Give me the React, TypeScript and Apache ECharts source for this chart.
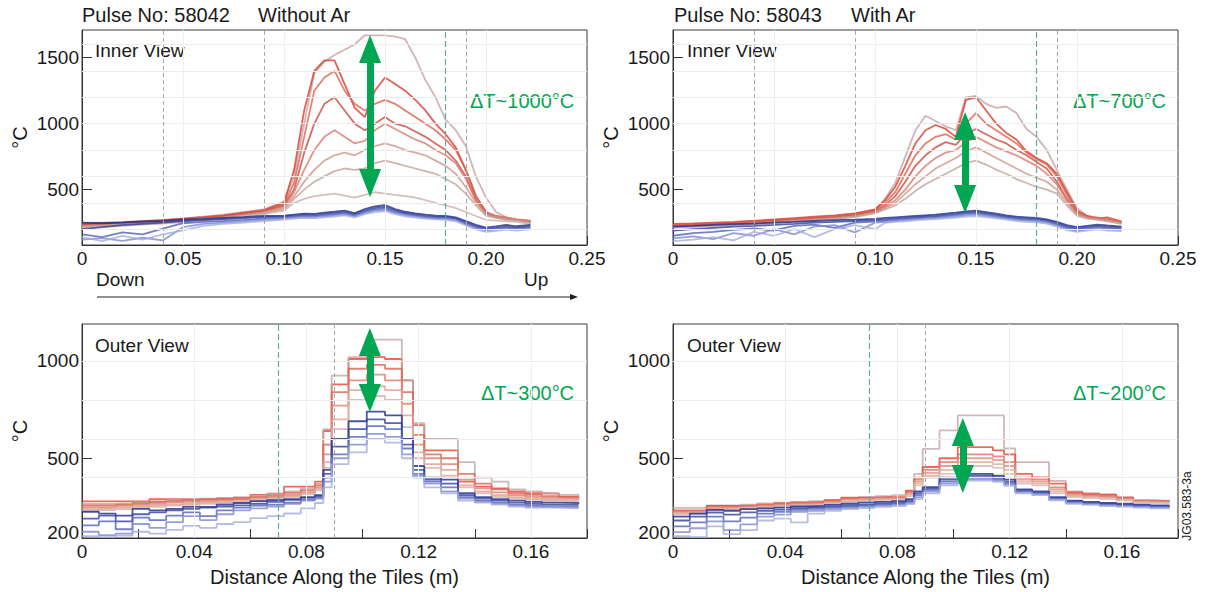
import React, { useEffect, useRef } from 'react';
import * as echarts from 'echarts';

const FONT = '"Liberation Sans", Arial, Helvetica, sans-serif';
const TXT = '#1a1a1a';
const GREEN = '#00a651';

// ---------- x positions (m) ----------
const innerX = [0, 0.01, 0.02, 0.03, 0.04, 0.05, 0.06, 0.07, 0.08, 0.09, 0.1, 0.105, 0.11, 0.115, 0.12, 0.125, 0.13, 0.135, 0.14, 0.145, 0.15, 0.155, 0.16, 0.165, 0.17, 0.175, 0.18, 0.185, 0.19, 0.195, 0.2, 0.205, 0.21, 0.215, 0.222];
const outerX = [0, 0.006, 0.012, 0.018, 0.024, 0.03, 0.036, 0.042, 0.048, 0.054, 0.06, 0.066, 0.072, 0.078, 0.083, 0.086, 0.089, 0.095, 0.1015, 0.108, 0.114, 0.118, 0.122, 0.128, 0.134, 0.14, 0.146, 0.152, 0.158, 0.164, 0.17, 0.177];

// ---------- Pulse 58042, Inner View (°C) ----------
const inner58042Red = [
  [245, 250, 255, 262, 270, 282, 295, 310, 330, 350, 410, 600, 1000, 1380, 1470, 1520, 1560, 1600, 1670, 1670, 1670, 1660, 1640, 1500, 1330, 1200, 1030, 950, 830, 600, 440, 330, 290, 270, 260],
  [240, 245, 252, 258, 268, 280, 292, 305, 325, 345, 400, 650, 1100, 1400, 1480, 1480, 1300, 1120, 1050, 1250, 1350, 1300, 1250, 1180, 1100, 1000, 920, 820, 650, 450, 330, 290, 280, 270, 250],
  [235, 240, 248, 255, 262, 275, 288, 300, 320, 340, 390, 550, 900, 1250, 1350, 1400, 1250, 1150, 1100, 1150, 1180, 1150, 1100, 1050, 1000, 950, 880, 800, 650, 450, 330, 300, 285, 275, 265],
  [230, 236, 244, 250, 258, 270, 283, 296, 315, 335, 380, 500, 780, 1000, 1150, 1200, 1100, 1000, 950, 1000, 1050, 1000, 980, 940, 900, 850, 800, 720, 600, 420, 320, 290, 280, 270, 255],
  [225, 232, 240, 246, 255, 266, 280, 292, 310, 330, 370, 480, 650, 800, 900, 950, 900, 850, 870, 950, 1000, 960, 920, 880, 850, 800, 760, 700, 580, 420, 320, 300, 290, 275, 260],
  [220, 228, 236, 242, 250, 262, 276, 288, 305, 325, 360, 450, 560, 650, 720, 760, 780, 760, 800, 830, 850, 830, 800, 780, 760, 720, 680, 620, 520, 400, 310, 290, 280, 270, 250],
  [215, 222, 230, 238, 246, 258, 272, 285, 300, 320, 350, 430, 500, 560, 600, 640, 660, 650, 660, 700, 720, 700, 680, 660, 640, 620, 580, 540, 470, 380, 300, 285, 270, 265, 245],
  [210, 218, 226, 234, 242, 254, 268, 280, 296, 315, 340, 400, 430, 450, 460, 470, 455, 440, 460, 480, 470, 460, 450, 440, 420, 400, 380, 360, 330, 300, 270, 265, 260, 255, 240],
];
const inner58042Blue = [
  [250, 245, 250, 258, 262, 272, 278, 285, 292, 300, 302, 310, 318, 316, 326, 332, 340, 322, 352, 372, 382, 352, 332, 320, 310, 302, 300, 290, 262, 232, 212, 222, 232, 222, 232],
  [200, 215, 230, 240, 250, 262, 268, 276, 284, 292, 296, 302, 310, 306, 316, 322, 330, 312, 340, 360, 368, 340, 322, 310, 300, 294, 292, 282, 252, 222, 202, 210, 220, 212, 222],
  [160, 140, 175, 160, 205, 245, 255, 262, 270, 280, 288, 294, 300, 298, 306, 312, 320, 302, 330, 348, 356, 330, 314, 302, 292, 286, 284, 274, 244, 212, 195, 202, 210, 205, 212],
  [120, 132, 112, 135, 115, 215, 240, 250, 260, 270, 280, 286, 292, 290, 298, 304, 312, 296, 322, 340, 346, 322, 306, 294, 286, 280, 276, 266, 236, 205, 188, 196, 204, 198, 205],
  [140, 110, 150, 120, 160, 190, 225, 240, 250, 262, 272, 280, 286, 284, 290, 296, 304, 290, 314, 330, 336, 314, 298, 288, 280, 274, 270, 260, 228, 198, 180, 188, 196, 190, 198],
];

// ---------- Pulse 58043, Inner View (°C) ----------
const inner58043Red = [
  [232, 238, 244, 250, 258, 268, 278, 288, 298, 315, 345, 430, 550, 750, 950, 1060, 1020, 980, 950, 1200, 1210, 1150, 1120, 1130, 1080, 960, 900, 800, 650, 500, 360, 300, 290, 270, 250],
  [240, 244, 250, 256, 264, 274, 284, 294, 304, 320, 350, 420, 520, 680, 850, 950, 990, 960, 900, 1180, 1200, 1100, 1000, 930, 880, 790, 740, 700, 620, 480, 340, 300, 280, 290, 260],
  [228, 234, 240, 246, 254, 264, 274, 284, 294, 310, 340, 400, 480, 620, 760, 850, 900, 920, 880, 1000, 1080, 1000, 950, 900, 850, 780, 730, 690, 600, 460, 330, 295, 285, 275, 255],
  [224, 230, 236, 242, 250, 260, 270, 280, 290, 305, 335, 380, 450, 560, 680, 760, 820, 860, 840, 920, 960, 920, 880, 850, 800, 760, 710, 660, 560, 430, 320, 290, 280, 270, 250],
  [220, 226, 232, 238, 246, 256, 266, 276, 286, 300, 330, 370, 420, 500, 600, 680, 740, 780, 800, 860, 900, 860, 820, 790, 760, 720, 680, 620, 540, 420, 320, 290, 280, 270, 248],
  [216, 222, 228, 234, 242, 252, 262, 272, 282, 296, 325, 360, 400, 470, 540, 600, 660, 700, 740, 790, 820, 780, 740, 700, 660, 620, 590, 560, 500, 400, 310, 285, 275, 265, 245],
  [212, 218, 224, 230, 238, 248, 258, 268, 278, 292, 320, 350, 380, 430, 490, 540, 580, 620, 660, 700, 720, 690, 650, 620, 580, 550, 520, 500, 470, 380, 300, 280, 270, 260, 240],
];
const inner58043Blue = [
  [220, 225, 232, 238, 242, 250, 255, 262, 268, 272, 278, 285, 290, 295, 300, 305, 310, 318, 325, 335, 340, 330, 318, 305, 295, 290, 285, 275, 255, 230, 215, 225, 235, 228, 220],
  [190, 200, 210, 220, 225, 232, 240, 250, 256, 262, 268, 274, 280, 285, 290, 296, 300, 308, 316, 326, 330, 320, 308, 296, 286, 280, 276, 266, 246, 220, 205, 215, 225, 218, 210],
  [150, 170, 180, 195, 205, 190, 225, 235, 210, 250, 258, 264, 270, 276, 282, 288, 292, 300, 306, 316, 320, 310, 298, 288, 278, 272, 268, 258, 236, 210, 195, 205, 215, 208, 200],
  [130, 145, 125, 170, 150, 200, 160, 220, 230, 175, 250, 256, 262, 268, 274, 280, 284, 290, 296, 306, 310, 300, 290, 280, 270, 264, 260, 250, 228, 200, 188, 198, 208, 200, 192],
  [110, 120, 140, 115, 180, 150, 200, 140, 200, 230, 200, 248, 255, 260, 266, 272, 276, 282, 288, 296, 300, 292, 282, 272, 262, 256, 252, 242, 220, 192, 180, 190, 198, 190, 185],
];

// ---------- Pulse 58042, Outer View (°C, stepped) ----------
const outer58042Red = [
  [278, 278, 278, 278, 290, 290, 290, 290, 290, 292, 312, 318, 354, 354, 380, 640, 880, 1010, 1020, 1010, 900, 670, 540, 540, 380, 354, 345, 329, 320, 318, 303, 300],
  [265, 265, 268, 272, 280, 284, 288, 292, 296, 300, 306, 316, 330, 345, 372, 650, 925, 1020, 1110, 1110, 900, 680, 600, 600, 480, 400, 380, 340, 330, 320, 312, 305],
  [258, 258, 262, 268, 275, 280, 284, 288, 292, 296, 300, 308, 322, 336, 362, 570, 840, 960, 980, 960, 840, 620, 520, 500, 420, 370, 340, 320, 312, 305, 300, 296],
  [248, 250, 255, 260, 266, 272, 276, 280, 284, 290, 296, 302, 312, 326, 352, 520, 770, 900, 930, 900, 780, 570, 500, 470, 390, 345, 325, 310, 302, 296, 294, 290],
  [238, 242, 246, 252, 258, 262, 266, 272, 276, 282, 288, 296, 306, 320, 342, 480, 700, 850, 870, 850, 720, 530, 470, 440, 360, 330, 310, 300, 292, 288, 286, 282],
  [228, 234, 238, 246, 250, 256, 260, 266, 270, 276, 282, 290, 300, 314, 335, 450, 650, 800, 820, 800, 660, 500, 450, 410, 350, 320, 302, 292, 286, 282, 280, 276],
];
const outer58042Blue = [
  [225, 215, 205, 240, 232, 240, 250, 250, 262, 270, 280, 285, 290, 300, 310, 440, 600, 690, 740, 720, 600, 460, 400, 390, 320, 300, 290, 282, 276, 272, 270, 266],
  [190, 205, 175, 212, 222, 232, 240, 246, 252, 258, 266, 276, 286, 296, 305, 420, 560, 650, 700, 680, 570, 440, 390, 370, 310, 292, 282, 272, 266, 262, 260, 258],
  [155, 175, 135, 195, 182, 205, 222, 202, 232, 246, 256, 262, 272, 286, 296, 400, 520, 610, 665, 650, 550, 420, 380, 350, 300, 282, 272, 262, 256, 252, 250, 250],
  [122, 105, 112, 162, 142, 172, 202, 182, 212, 232, 242, 252, 266, 282, 292, 380, 500, 570, 625, 610, 520, 410, 370, 330, 292, 276, 266, 256, 250, 248, 246, 246],
  [100, 95, 102, 122, 112, 132, 152, 142, 162, 172, 192, 202, 216, 242, 270, 350, 470, 530, 600, 580, 500, 400, 350, 320, 282, 272, 262, 252, 246, 246, 244, 242],
];

// ---------- Pulse 58043, Outer View (°C, stepped) ----------
const outer58043Red = [
  [245, 245, 258, 258, 262, 268, 272, 276, 280, 285, 295, 300, 305, 310, 330, 420, 548, 643, 720, 720, 720, 550, 480, 480, 384, 330, 320, 316, 300, 285, 282, 280],
  [232, 232, 255, 255, 258, 262, 268, 272, 275, 285, 298, 298, 300, 300, 333, 400, 455, 500, 557, 557, 540, 520, 420, 402, 370, 324, 316, 312, 298, 282, 280, 278],
  [228, 230, 250, 252, 255, 260, 264, 270, 272, 280, 292, 295, 298, 300, 325, 390, 440, 480, 520, 520, 510, 480, 400, 390, 350, 318, 310, 305, 295, 280, 278, 276],
  [222, 226, 244, 246, 250, 255, 260, 265, 268, 275, 286, 290, 294, 296, 318, 380, 425, 460, 500, 500, 490, 460, 390, 380, 340, 312, 305, 300, 290, 278, 275, 274],
  [216, 220, 238, 240, 244, 250, 255, 260, 262, 270, 280, 285, 290, 292, 312, 370, 410, 440, 480, 480, 470, 440, 380, 370, 330, 306, 300, 296, 286, 276, 272, 270],
  [210, 214, 230, 234, 238, 244, 250, 255, 258, 265, 275, 280, 285, 288, 305, 360, 400, 420, 460, 460, 450, 420, 370, 360, 320, 300, 295, 290, 282, 272, 270, 268],
];
const outer58043Blue = [
  [200, 215, 235, 230, 238, 242, 246, 252, 255, 260, 266, 272, 276, 280, 290, 330, 352, 400, 420, 420, 410, 390, 340, 330, 300, 282, 276, 270, 266, 262, 258, 256],
  [180, 200, 220, 210, 222, 230, 236, 244, 248, 252, 258, 262, 268, 272, 282, 320, 345, 390, 410, 410, 400, 380, 335, 325, 296, 278, 272, 266, 262, 258, 254, 252],
  [150, 170, 200, 175, 195, 215, 225, 235, 240, 246, 250, 256, 262, 266, 276, 310, 338, 380, 400, 400, 392, 372, 330, 320, 292, 274, 268, 262, 258, 254, 250, 248],
  [120, 140, 175, 130, 160, 200, 210, 225, 230, 238, 244, 250, 255, 260, 270, 300, 330, 370, 392, 392, 385, 365, 325, 315, 288, 270, 264, 258, 254, 250, 246, 244],
  [100, 95, 150, 110, 130, 180, 190, 170, 215, 230, 238, 244, 250, 254, 264, 290, 320, 360, 385, 385, 378, 358, 320, 310, 284, 266, 260, 254, 250, 246, 242, 240],
];

// ---------- axis ticks / annotations ----------
const innerYTicks = [500, 1000, 1500];
const outerYTicks = [500, 1000];
const outerYBottomLabel = '200';
const innerGuides = [0.041, 0.0896, 0.1916];
const innerGuideTeal = 0.178;
const outerGuides = [0.0877];
const outerGuideTeal = 0.068;
const deltaLabels = ['ΔT~1000°C', 'ΔT~700°C', 'ΔT~300°C', 'ΔT~200°C'];
// green double arrows [x, yTop, yBottom] per panel (data coords)
const deltaArrows = [
  [0.1426, 1566, 550],
  [0.1446, 982, 429],
  [0.1026, 1098, 810],
  [0.1033, 635, 393],
];

const redInner = ['#c6a2a2', '#d8392b', '#e0604e', '#c94a3e', '#d97a6a', '#cf958a', '#c2a29c', '#c9b2ae'];
const redOuter58042 = ['#e8452c', '#bfa6a6', '#e06050', '#d8806e', '#e09c8c', '#d8aea6'];
const redOuter58043 = ['#c4a6a6', '#e8452c', '#e07060', '#d8907e', '#e0a898', '#d8b6ae'];
const blues = ['#1d2a8a', '#2f3fa0', '#5060b8', '#7c88cc', '#a4acdc'];

const grids = [
  { left: 82, top: 30, width: 505, height: 215 },
  { left: 673, top: 30, width: 505, height: 215 },
  { left: 82, top: 324, width: 505, height: 214 },
  { left: 673, top: 324, width: 505, height: 214 },
];

function buildOption() {
  const axisLine = { show: true, lineStyle: { color: '#333', width: 1 } };
  const labelBase = { color: TXT, fontFamily: FONT, fontSize: 19 };

  const xAxes = [0, 1, 2, 3].map((gi) => {
    const inner = gi < 2;
    return {
      type: 'value',
      gridIndex: gi,
      min: 0,
      max: inner ? 0.25 : 0.18,
      interval: inner ? 0.05 : 0.02,
      axisLine,
      axisTick: { show: true, inside: true, length: 9, lineStyle: { color: '#333' } },
      splitLine: { show: false },
      axisLabel: {
        ...labelBase,
        margin: 4,
        formatter: (v: number) => {
          if (v === 0) return '0';
          if (!inner) {
            const k = v / 0.04;
            if (Math.abs(k - Math.round(k)) > 1e-6) return '';
          }
          return v.toFixed(2);
        },
      },
      name: inner ? '' : 'Distance Along the Tiles (m)',
      nameLocation: 'middle',
      nameGap: 29,
      nameTextStyle: { color: TXT, fontFamily: FONT, fontSize: 20 },
    };
  });

  const yAxes = [0, 1, 2, 3].map((gi) => {
    const inner = gi < 2;
    const min = inner ? 80 : 90;
    return {
      type: 'value',
      gridIndex: gi,
      min,
      max: inner ? 1710 : 1190,
      axisLine,
      axisTick: {
        show: true,
        inside: true,
        length: 10,
        lineStyle: { color: '#333' },
        customValues: inner ? innerYTicks : outerYTicks,
      },
      splitLine: { show: false },
      axisLabel: {
        ...labelBase,
        margin: 3,
        customValues: inner ? innerYTicks : [min, ...outerYTicks],
        formatter: (v: number) => (!inner && v === min ? '{lo|' + outerYBottomLabel + '}' : String(v)),
        rich: { lo: { ...labelBase, padding: [0, 0, 12, 0] } },
      },
      name: '°C',
      nameLocation: 'middle',
      nameRotate: 90,
      nameGap: 52,
      nameTextStyle: { color: TXT, fontFamily: FONT, fontSize: 20 },
    };
  });

  const series: any[] = [];
  const panels = [
    { red: inner58042Red, blue: inner58042Blue, xs: innerX, step: false, reds: redInner },
    { red: inner58043Red, blue: inner58043Blue, xs: innerX, step: false, reds: redInner },
    { red: outer58042Red, blue: outer58042Blue, xs: outerX, step: 'end', reds: redOuter58042 },
    { red: outer58043Red, blue: outer58043Blue, xs: outerX, step: 'end', reds: redOuter58043 },
  ];

  panels.forEach((p, gi) => {
    const inner = gi < 2;
    const guideData: any[] = [];
    const hLines = inner ? [200, 400, 600, 800, 1000, 1200, 1400, 1600] : [400, 600, 800, 1000];
    hLines.forEach((v) => guideData.push({ yAxis: v, lineStyle: { color: '#ebebeb', width: 1, type: 'solid' } }));
    const vTicks = inner ? [0.05, 0.1, 0.15, 0.2] : [0.04, 0.08, 0.12, 0.16];
    vTicks.forEach((v) => guideData.push({ xAxis: v, lineStyle: { color: '#efefef', width: 1, type: 'solid' } }));
    (inner ? innerGuides : outerGuides).forEach((v) =>
      guideData.push({ xAxis: v, lineStyle: { color: '#a9a9a9', width: 1, type: [4, 3] } })
    );
    guideData.push({ xAxis: inner ? innerGuideTeal : outerGuideTeal, lineStyle: { color: '#5fae9f', width: 1.2, type: [6, 3] } });
    series.push({
      type: 'line',
      xAxisIndex: gi,
      yAxisIndex: gi,
      data: [],
      silent: true,
      z: 1,
      markLine: { silent: true, symbol: ['none', 'none'], label: { show: false }, animation: false, data: guideData },
    });

    p.red.forEach((row, i) => {
      series.push({
        type: 'line',
        xAxisIndex: gi,
        yAxisIndex: gi,
        data: row.map((v, j) => [p.xs[j], v]),
        step: p.step,
        showSymbol: false,
        symbol: 'none',
        silent: true,
        z: 2,
        lineStyle: { width: 1.8, color: p.reds[i % p.reds.length], opacity: 0.8 },
      });
    });
    p.blue.forEach((row, i) => {
      series.push({
        type: 'line',
        xAxisIndex: gi,
        yAxisIndex: gi,
        data: row.map((v, j) => [p.xs[j], v]),
        step: p.step,
        showSymbol: false,
        symbol: 'none',
        silent: true,
        z: 3,
        lineStyle: { width: 1.8, color: blues[i % blues.length], opacity: 0.8 },
      });
    });

    const a = deltaArrows[gi];
    series.push({
      type: 'line',
      xAxisIndex: gi,
      yAxisIndex: gi,
      data: [],
      silent: true,
      z: 10,
      markLine: {
        silent: true,
        symbol: ['triangle', 'triangle'],
        symbolSize: [22, 28],
        label: { show: false },
        lineStyle: { color: GREEN, width: 7, type: 'solid', opacity: 1 },
        itemStyle: { color: GREEN },
        data: [[{ coord: [a[0], a[1]] }, { coord: [a[0], a[2]] }]],
      },
    });
  });

  const t = (text: string, x: number, y: number, extra: any = {}) => ({
    type: 'text',
    x,
    y,
    silent: true,
    style: { text, fill: TXT, fontFamily: FONT, fontSize: 20, verticalAlign: 'middle', align: 'left', ...extra },
  });

  const graphic = [
    t('Pulse No: 58042', 82, 15),
    t('Without Ar', 258, 15),
    t('Pulse No: 58043', 674, 15),
    t('With Ar', 851, 15),
    t('Inner View', 95, 50, { fontSize: 19 }),
    t('Inner View', 687, 50, { fontSize: 19 }),
    t('Outer View', 95, 345, { fontSize: 19 }),
    t('Outer View', 687, 345, { fontSize: 19 }),
    t(deltaLabels[0], 470, 101, { fill: GREEN }),
    t(deltaLabels[1], 1073, 101, { fill: GREEN }),
    t(deltaLabels[2], 481, 393, { fill: GREEN }),
    t(deltaLabels[3], 1073, 393, { fill: GREEN }),
    t('Down', 96, 279, { fontSize: 19 }),
    t('Up', 524, 279, { fontSize: 19 }),
    {
      type: 'line',
      silent: true,
      shape: { x1: 97, y1: 297, x2: 572, y2: 297 },
      style: { stroke: '#222', lineWidth: 1 },
    },
    {
      type: 'polygon',
      silent: true,
      shape: { points: [[570, 294], [578, 297], [570, 300]] },
      style: { fill: '#222' },
    },
    {
      type: 'text',
      x: 1187,
      y: 506,
      rotation: Math.PI / 2,
      silent: true,
      style: { text: 'JG03.583-3a', fill: TXT, fontFamily: FONT, fontSize: 12, align: 'center', verticalAlign: 'middle' },
    },
  ];

  return {
    animation: false,
    backgroundColor: '#ffffff',
    grid: grids.map((g) => ({ ...g, show: true, borderColor: '#3a3a3a', borderWidth: 1, backgroundColor: 'transparent', containLabel: false })),
    xAxis: xAxes,
    yAxis: yAxes,
    series,
    graphic,
  };
}

export default function App() {
  const ref = useRef<HTMLDivElement>(null);
  useEffect(() => {
    if (!ref.current) return;
    const chart = echarts.init(ref.current, null, { renderer: 'svg' });
    chart.setOption(buildOption() as any);
    return () => chart.dispose();
  }, []);
  return (
    <div
      ref={ref}
      style={{ position: 'absolute', left: 0, top: 0, width: 1209, height: 592, background: '#fff' }}
    />
  );
}
